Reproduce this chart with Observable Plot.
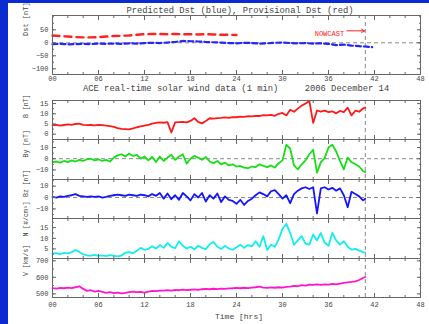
<!DOCTYPE html>
<html><head><meta charset="utf-8">
<script src="https://cdn.jsdelivr.net/npm/d3@7"></script>
<script src="https://cdn.jsdelivr.net/npm/@observablehq/plot@0.6"></script>
<style>
html,body{margin:0;padding:0;background:#0b2bd0;}
#wrap{position:relative;width:429px;height:324px;background:#0b2bd0;overflow:hidden;}
#paper{position:absolute;left:8px;top:3px;right:0;bottom:0;background:#fff;}
#wrap svg{position:absolute;left:0;}
</style></head><body>
<div id="wrap"><div id="paper"></div></div>
<script>
// ---------- data ----------
const xTicks = [0, 6, 12, 18, 24, 30, 36, 42, 48];
const xTickLabels = ["00", "06", "12", "18", "24", "30", "36", "42", "48"];
const xMinor = [2, 4, 8, 10, 14, 16, 20, 22, 26, 28, 32, 34, 38, 40, 44, 46];
const nowHour = 40.8;

// Dst panel
const provHours = d3.range(0, 25);
const provDst = [28, 26, 24, 22, 21, 21, 22, 24, 26, 27, 28, 31, 33, 34, 34, 33, 34, 33, 33, 32, 33, 32, 31, 31, 30];
const predHours = d3.range(0, 42).concat([41.7]);
const predDst = [-5, -4, -6, -5, -4, -5, -3, -4, -3, -4,
  -2, -3, -1, 0, -1, 1, 3, 7, 6, 5,
  3, 2, 1, -1, -2, 0, -1, -3, -2, 0,
  1, -1, -2, -1, -3, -2, -4, -9, -7, -11,
  -13, -15, -17];
const nowcastNote = [{t: 34.2, v: 33, text: "NOWCAST"}];
const nowcastArrow = [{t1: 38.4, v1: 46, t2: 40.7, v2: 46}];

// ACE panels (half-hour samples)
const hours = d3.range(0, 41, 0.5).concat([40.8]);
const bTotal = [4.4, 4.6, 4.2, 4.5, 4.8, 4.6, 5.0, 5.2, 4.6, 4.4,
  4.5, 4.3, 4.6, 4.4, 4.2, 4.0, 3.6, 3.0, 2.6, 2.5,
  2.4, 2.8, 3.4, 3.8, 4.2, 4.6, 5.2, 5.5, 5.8, 5.6,
  5.9, 0.8, 5.8, 5.9, 6.0, 5.8, 6.5, 7.8, 6.0, 5.3,
  6.5, 7.8, 7.6, 7.9, 8.0, 8.2, 8.0, 8.4, 8.3, 8.6,
  8.5, 8.8, 8.7, 9.0, 8.9, 9.3, 9.2, 9.5, 9.0, 10.0,
  10.4, 9.2, 12.0, 11.0, 12.5, 14.0, 15.0, 16.3, 5.5, 11.6,
  11.0, 11.5, 10.8, 11.2, 10.2, 11.4, 10.8, 13.0, 9.2, 11.5,
  11.0, 12.6, 13.0];
const bY = [-3, -2.5, -3.5, -2, -3, -1.5, -2.5, -1, -2, -0.5,
  0, -1.5, -0.5, -2, -1, -2.5, 1, 3, 4, 2,
  4.5, 2.5, 3.5, 0, 2, -1.5, 1.5, -3, 2, -2,
  1, 3.5, -1, 2, 4, -4.5, 0, 2.5, 1, -1,
  1.5, -2.5, -4, -2, -5, -3.5, -6, -5, -7, -6.5,
  -8, -8.5, -7, -7.5, -5, -6.5, -7.5, -6, -8, -4,
  -1.5, 12.5, 9, -6, -9.5, -5, -1.5, 4, 8, -12.5,
  -3, 0.5, 10, 12.5, 6.5, -2, -9.5, 1, -3, -5,
  -7, -11, -12];
const bZ = [0.5, 0, 1, 0.5, 1.5, 2, 3, 1.5, 1, 0.5,
  1, 0.5, 1, 0, 0.5, 1.5, 2, 2.5, 2, 1.5,
  2.5, 2, 1.5, 2.5, 2, 1, 3, 1.5, 4, -1,
  3.5, -1.5, 2, -2, 4, 1, -2.5, 3, 0, 4,
  -3.5, 2, -1, 3.5, -4, 1, -2, -3, -5.5, -2,
  -6.5, -3, -1, 2, 4.5, 3, 1, 5.5, 6.5, 3,
  -1, 2, -5, 3, 6, 8, 9, 7.5, 9, -14,
  8, 9, 7, 8.5, 6, 8, 2, -8.5, 5, 3,
  1, -2.5, -1];
const density = [2.8, 3.0, 2.6, 3.1, 2.9, 3.5, 4.5, 3.6, 2.5, 2.0,
  1.8, 2.2, 1.7, 2.0, 1.6, 2.1, 1.8, 1.5, 1.9, 3.2,
  3.5, 3.0, 4.2, 5.5, 4.6, 5.0, 6.2, 5.2, 6.8, 5.5,
  7.8, 6.0, 5.4, 8.6, 6.5, 5.2, 6.0, 4.8, 6.5, 5.5,
  4.9, 7.2, 8.3, 6.0, 5.0, 6.4, 5.2, 4.6, 5.8, 7.0,
  5.5, 6.8, 6.2, 8.6, 6.0, 11.0, 4.5, 7.0, 6.0, 9.5,
  14.4, 16.8, 12.5, 7.0, 9.0, 11.0, 7.5, 7.0, 11.8, 9.0,
  12.5, 8.0, 6.5, 12.5, 9.0, 7.0, 8.6, 6.0, 4.7, 5.0,
  4.2, 3.5, 3.3];
const speed = [535, 532, 536, 534, 538, 535, 540, 546, 530, 518,
  522, 514, 518, 512, 506, 510, 504, 508, 503, 506,
  510, 514, 510, 512, 508, 514, 518, 516, 520, 519,
  522, 520, 524, 522, 526, 523, 525, 527, 524, 528,
  530, 528, 531, 529, 532, 530, 533, 534, 536, 534,
  537, 535, 538, 540, 544, 538, 536, 539, 537, 540,
  538, 542, 544, 548, 546, 553, 550, 556, 554, 557,
  555, 558, 556, 560, 558, 562, 566, 570, 572, 576,
  584, 596, 602];

// axis ticks
const dstTicks = [-100, -50, 0, 50], dstMinor = [-100, -75, -50, -25, 0, 25, 50, 75, 100];
const bTicks = [0, 5, 10, 15], bMinor = [0, 2.5, 5, 7.5, 10, 12.5, 15];
const byTicks = [-10, 0, 10], byMinor = [-15, -10, -5, 0, 5, 10, 15];
const bzTicks = [-10, 0, 10], bzMinor = [-15, -10, -5, 0, 5, 10, 15];
const npTicks = [5, 10, 15], npMinor = [2.5, 5, 7.5, 10, 12.5, 15, 17.5];
const vTicks = [500, 600, 700], vMinor = [500, 550, 600, 650, 700];

// ---------- rendering ----------
const W = 429, ML = 52, MR = 9;
const FONT = "'Liberation Mono', 'DejaVu Sans Mono', monospace";
const GRAY = "#666", TXT = "#444";
const wrap = document.getElementById("wrap");
const fmtX = d => xTickLabels[xTicks.indexOf(d)];

function frameAxes(yTicks, yMinor, showX) {
  const m = [
    Plot.frame({stroke: GRAY}),
    Plot.axisY({anchor: "left", ticks: yTicks, tickSize: 0, tickPadding: 4, label: null, fontSize: 7, fill: TXT}),
    Plot.axisY({anchor: "left", ticks: yTicks, tickSize: 4, dx: 4, tickFormat: () => "", label: null, stroke: GRAY}),
    Plot.axisY({anchor: "left", ticks: yMinor, tickSize: 2, dx: 2, tickFormat: () => "", label: null, stroke: GRAY}),
    Plot.axisY({anchor: "right", ticks: yTicks, tickSize: 4, dx: -4, tickFormat: () => "", label: null, stroke: GRAY}),
    Plot.axisY({anchor: "right", ticks: yMinor, tickSize: 2, dx: -2, tickFormat: () => "", label: null, stroke: GRAY}),
    Plot.axisX({anchor: "bottom", ticks: xTicks, tickSize: 4, dy: -4, tickFormat: () => "", label: null, stroke: GRAY}),
    Plot.axisX({anchor: "bottom", ticks: xMinor, tickSize: 2, dy: -2, tickFormat: () => "", label: null, stroke: GRAY}),
    Plot.axisX({anchor: "top", ticks: xTicks, tickSize: 4, dy: 4, tickFormat: () => "", label: null, stroke: GRAY}),
    Plot.axisX({anchor: "top", ticks: xMinor, tickSize: 2, dy: 2, tickFormat: () => "", label: null, stroke: GRAY})
  ];
  if (showX) m.push(Plot.axisX({anchor: "bottom", ticks: xTicks, tickSize: 0, tickPadding: showX, tickFormat: fmtX, label: null, fontSize: 7, fill: TXT}));
  return m;
}

function place(svg, top) {
  svg.style.position = "absolute";
  svg.style.top = top + "px";
  svg.style.left = "0px";
  wrap.appendChild(svg);
}

function yLabel(text, dy, size) {
  return Plot.text([text], {frameAnchor: "left", text: d => d, rotate: -90, dx: -27, dy: dy || 0, fontSize: size || 6.5, fill: TXT});
}

const dashRule = {stroke: "#8a8a8a", strokeWidth: 1, strokeDasharray: "4,3"};

// Dst panel
const provRows = provHours.map((t, i) => ({t, v: provDst[i]}));
const predRows = predHours.map((t, i) => ({t, v: predDst[i]}));
place(Plot.plot({
  width: W, height: 90, marginLeft: ML, marginRight: MR, marginTop: 15, marginBottom: 16,
  style: {background: "none", fontFamily: FONT, color: TXT, overflow: "visible"},
  x: {domain: [0, 48], axis: null},
  y: {domain: [-122, 105], axis: null},
  marks: [
    Plot.ruleY([0], dashRule),
    Plot.ruleX([nowHour], dashRule),
    Plot.line(provRows, {x: "t", y: "v", stroke: "#ff2020", strokeWidth: 2.4, strokeDasharray: "7,5"}),
    Plot.line(predRows, {x: "t", y: "v", stroke: "#2424ff", strokeWidth: 2.2, strokeDasharray: "5,3"}),
    Plot.text(nowcastNote, {x: "t", y: "v", text: "text", fill: "#ff2020", textAnchor: "start", fontSize: 7}),
    Plot.arrow(nowcastArrow, {x1: "t1", y1: "v1", x2: "t2", y2: "v2", stroke: "#ff2020", strokeWidth: 1, headLength: 5}),
    yLabel("Dst [nT]", -9, 7),
    ...frameAxes(dstTicks, dstMinor, 2)
  ]
}), 0);

// ACE panels
const rows = hours.map((t, i) => ({t, b: bTotal[i], by: bY[i], bz: bZ[i], np: density[i], v: speed[i]}));
const panels = [
  {key: "b", color: "#ff1a1a", domain: [-2.6, 16.5], ticks: bTicks, minor: bMinor, label: "B [nT]", zero: false, top: 100, h: 39},
  {key: "by", color: "#14e014", domain: [-18.6, 17.2], ticks: byTicks, minor: byMinor, label: "By [nT]", zero: true, top: 139, h: 40},
  {key: "bz", color: "#1414ff", domain: [-18.4, 15.8], ticks: bzTicks, minor: bzMinor, label: "Bz [nT]", zero: true, top: 179, h: 39},
  {key: "np", color: "#12eef0", domain: [0.5, 19.3], ticks: npTicks, minor: npMinor, label: "N [#/cm³]", zero: false, top: 218, h: 40},
  {key: "v", color: "#ff14d0", domain: [478, 714], ticks: vTicks, minor: vMinor, label: "V [km/s]", zero: false, top: 258, h: 39, last: true}
];
for (const p of panels) {
  const mb = p.last ? 27 : 0;
  const marks = [];
  if (p.zero) marks.push(Plot.ruleY([0], dashRule));
  marks.push(Plot.ruleX([nowHour], dashRule));
  marks.push(Plot.line(rows, {x: "t", y: p.key, stroke: p.color, strokeWidth: 1.8, strokeLinejoin: "round"}));
  marks.push(yLabel(p.label, -2));
  marks.push(...frameAxes(p.ticks, p.minor, p.last ? 5 : 0));
  place(Plot.plot({
    width: W, height: p.h + mb, marginLeft: ML, marginRight: MR, marginTop: 0, marginBottom: mb,
    style: {background: "none", fontFamily: FONT, color: TXT, overflow: "visible"},
    x: {domain: [0, 48], axis: null},
    y: {domain: p.domain, axis: null},
    marks
  }), p.top);
}

// titles
const ns = "http://www.w3.org/2000/svg";
const over = document.createElementNS(ns, "svg");
over.setAttribute("width", W); over.setAttribute("height", 324);
over.style.top = "0px"; over.style.pointerEvents = "none";
function addText(str, x, y, anchor, size) {
  const t = document.createElementNS(ns, "text");
  t.setAttribute("x", x); t.setAttribute("y", y);
  t.setAttribute("text-anchor", anchor);
  t.setAttribute("font-family", FONT);
  t.setAttribute("font-size", size);
  t.setAttribute("fill", TXT);
  t.style.whiteSpace = "pre";
  t.textContent = str;
  over.appendChild(t);
}
addText("Predicted Dst (blue), Provisional Dst (red)", 240, 13, "middle", 8.8);
addText("ACE real-time solar wind data (1 min)     2006 December 14", 83, 91, "start", 8.8);
addText("Time [hrs]", 239, 319, "middle", 8);
wrap.appendChild(over);
</script>
</body></html>
